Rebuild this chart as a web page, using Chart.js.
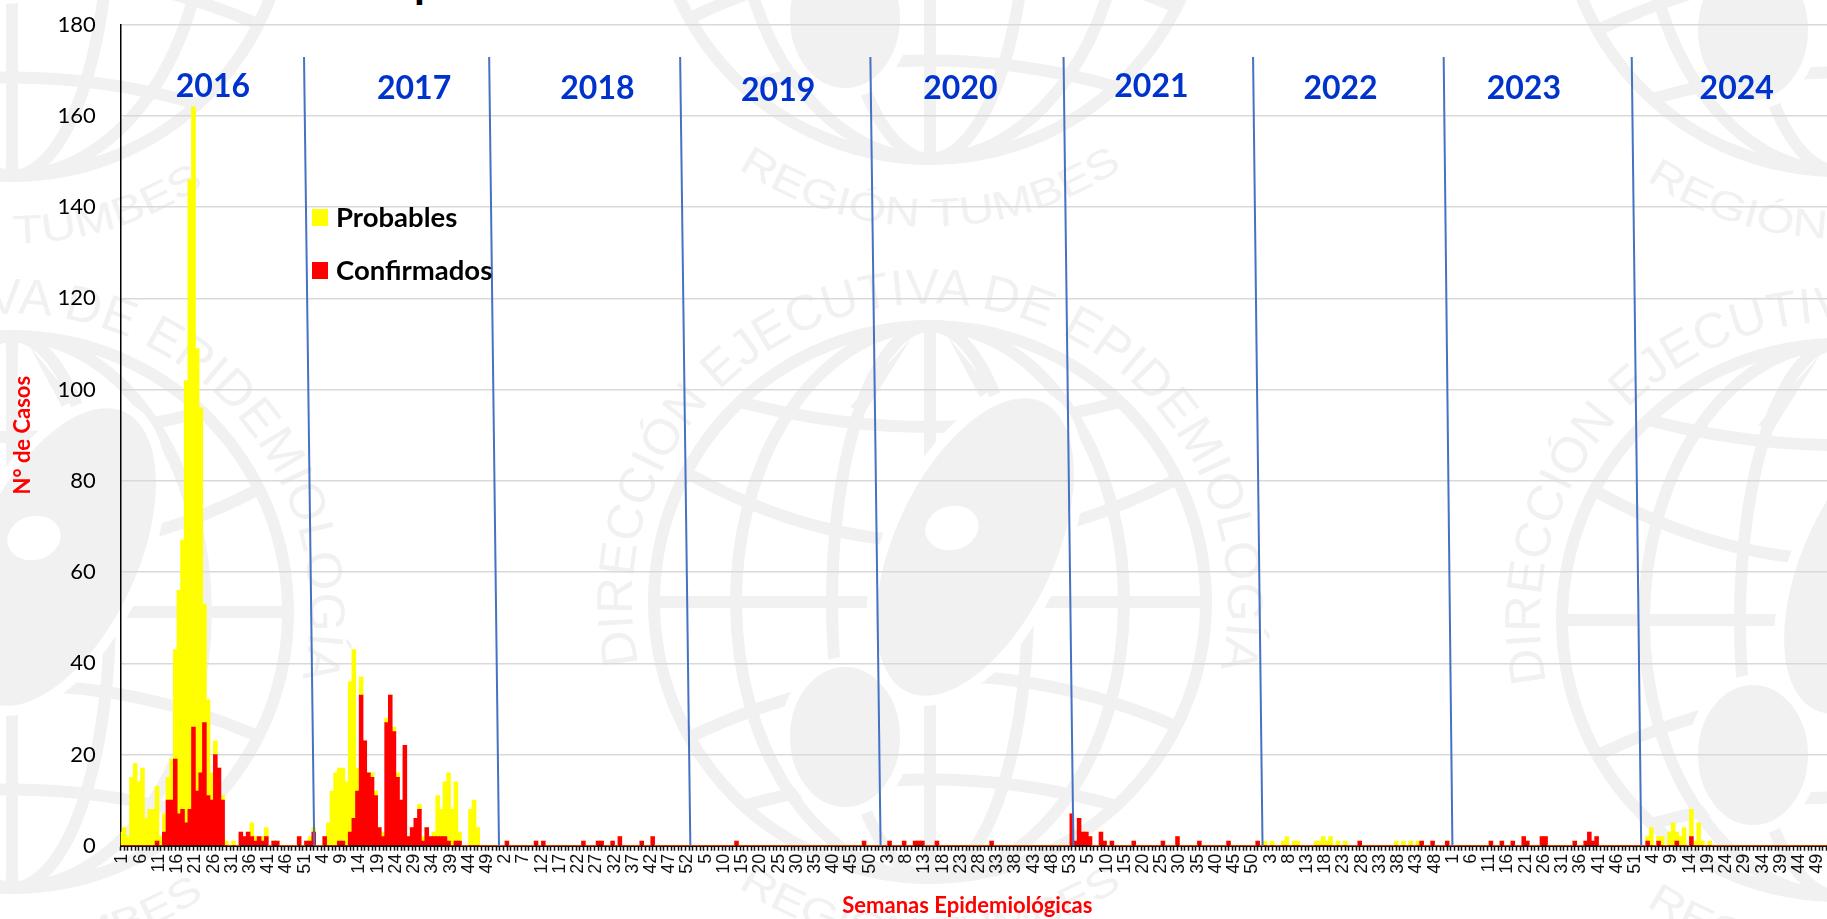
<!DOCTYPE html>
<html lang="es">

<head>
    <meta charset="UTF-8">
    <title>Casos por semanas epidemiológicas</title>
    <style>
        html, body { margin: 0; padding: 0; background: #fff; overflow: hidden; width: 1827px; height: 919px; }
        #marca { position: absolute; left: 0; top: 0; }
        #chart { position: absolute; left: 0; top: 0; }
        #legend { position: absolute; left: 312px; top: 201px; font: bold 27.5px Lato, sans-serif; color: #000; }
        .legend-row { position: absolute; left: 0; white-space: nowrap; line-height: 32px; height: 32px; }
        .legend-row i { position: absolute; left: 0; top: 8px; width: 16px; height: 17px; }
        .legend-row span { position: absolute; left: 24px; top: 0; }
    </style>
</head>

<body>
    <svg id="marca" width="1827" height="919" viewBox="0 0 1827 919">
        <defs>
            <path id="arc-top" d="M -291.5 62 A 298 298 0 1 1 289 72"></path>
            <path id="arc-bottom" d="M -192 285 A 344 344 0 0 0 192 285"></path>
            <g id="emblem" fill="none" stroke="#f1f1f2" stroke-width="12">
                <circle r="276"></circle>
                <ellipse rx="194" ry="276"></ellipse>
                <ellipse rx="98" ry="276"></ellipse>
                <path d="M 0 -270 V 270"></path>
                <path d="M -272 0 H 272"></path>
                <path d="M -190 -200 Q 0 -150 190 -200"></path>
                <path d="M -241 -128 Q 0 5 245 -122"></path>
                <path d="M -240 135 Q 0 20 241 122"></path>
                <path d="M -190 205 Q 0 150 190 205"></path>
                <path d="M 18 -265 L 50 -205 L 62 -212 Z" fill="#f1f1f2" stroke="none"></path>
                <path d="M -18 -265 L -80 -195 L -65 -190 Z" fill="#f1f1f2" stroke="none"></path>
                <ellipse cx="45" cy="-55" rx="85" ry="165" transform="rotate(25 45 -55)" fill="#f1f1f2" stroke="#fff" stroke-width="10"></ellipse>
                <ellipse cx="22" cy="-74" rx="27" ry="22" transform="rotate(-15 22 -74)" fill="#fff" stroke="none"></ellipse>
                <ellipse cx="-85" cy="135" rx="60" ry="75" fill="#f1f1f2" stroke="#fff" stroke-width="10"></ellipse>
                <text font-family="Liberation Sans" font-size="50" fill="#f1f1f2" stroke="none">
                    <textPath href="#arc-top" textLength="1066" lengthAdjust="spacingAndGlyphs">DIRECCIÓN EJECUTIVA DE EPIDEMIOLOGÍA</textPath>
                </text>
                <text font-family="Liberation Sans" font-size="40" fill="#f1f1f2" stroke="none">
                    <textPath href="#arc-bottom" textLength="408" lengthAdjust="spacingAndGlyphs">REGIÓN TUMBES</textPath>
                </text>
            </g>
        </defs>
        <use href="#emblem" x="930" y="602"></use>
        <use href="#emblem" x="1838" y="620"></use>
        <use href="#emblem" x="12" y="612"></use>
        <use href="#emblem" x="930" y="-117"></use>
        <use href="#emblem" x="1838" y="-105"></use>
        <use href="#emblem" x="12" y="-100"></use>
        <!-- title is cut off by the image edge, only this bit shows -->
        <text x="414" y="-2" font-family="Lato" font-weight="bold" font-size="44" fill="#000">p</text>
    </svg>
    <canvas id="chart" width="1830" height="919"></canvas>
    <div id="legend"></div>
</body>

<script src="https://cdn.jsdelivr.net/npm/chart.js@4/dist/chart.umd.min.js"></script>

<script type="text/javascript" charset="utf-8">
    var weeksPerYear = [52, 52, 52, 52, 53, 52, 52, 52, 52];

    var yTicks = [0, 20, 40, 60, 80, 100, 120, 140, 160, 180];

    // Weekly cases, one pair of arrays per year
    var confirmados2016 = [0, 0, 0, 0, 0, 0, 0, 0, 0, 0, 1, 0, 3,
        10, 10, 19, 7, 8, 5, 8, 26, 12, 16, 27, 11, 10,
        20, 17, 10, 0, 0, 0, 0, 3, 2, 3, 2, 1, 2,
        1, 2, 0, 1, 1, 0, 0, 0, 0, 0, 2, 0, 1];
    var probables2016 = [3, 4, 2, 15, 18, 14, 17, 6, 8, 8, 12, 2, 4,
        5, 9, 24, 49, 59, 97, 138, 136, 97, 80, 26, 21, 6,
        3, 0, 1, 1, 0, 1, 0, 0, 0, 0, 3, 1, 0,
        1, 2, 0, 0, 0, 0, 0, 0, 0, 0, 0, 0, 0];
    var confirmados2017 = [1, 3, 0, 0, 2, 0, 0, 0, 1, 1, 0, 3, 6,
        12, 33, 23, 16, 15, 11, 4, 2, 27, 33, 25, 15, 10,
        22, 2, 4, 6, 8, 1, 4, 2, 2, 2, 2, 2, 1,
        0, 1, 1, 0, 0, 0, 0, 0, 0, 0, 0, 0, 0];
    var probables2017 = [1, 1, 0, 0, 0, 5, 12, 16, 16, 16, 14, 33, 37,
        5, 4, 0, 0, 1, 1, 0, 1, 1, 0, 1, 1, 0,
        0, 0, 0, 0, 1, 1, 0, 0, 1, 9, 6, 12, 15,
        8, 13, 2, 0, 0, 8, 10, 4, 0, 0, 0, 0, 0];
    var confirmados2018 = [0, 0, 1, 0, 0, 0, 0, 0, 0, 0, 1, 0, 1,
        0, 0, 0, 0, 0, 0, 0, 0, 0, 0, 1, 0, 0,
        0, 1, 1, 0, 0, 1, 0, 2, 0, 0, 0, 0, 0,
        1, 0, 0, 2, 0, 0, 0, 0, 0, 0, 0, 0, 0];
    var probables2018 = [0, 0, 0, 0, 0, 0, 0, 0, 0, 0, 0, 0, 0,
        0, 0, 0, 0, 0, 0, 0, 0, 0, 0, 0, 0, 0,
        0, 0, 0, 0, 0, 0, 0, 0, 0, 0, 0, 0, 0,
        0, 0, 0, 0, 0, 0, 0, 0, 0, 0, 0, 0, 0];
    var confirmados2019 = [0, 0, 0, 0, 0, 0, 0, 0, 0, 0, 0, 0, 0,
        1, 0, 0, 0, 0, 0, 0, 0, 0, 0, 0, 0, 0,
        0, 0, 0, 0, 0, 0, 0, 0, 0, 0, 0, 0, 0,
        0, 0, 0, 0, 0, 0, 0, 0, 0, 1, 0, 0, 0];
    var probables2019 = [0, 0, 0, 0, 0, 0, 0, 0, 0, 0, 0, 0, 0,
        0, 0, 0, 0, 0, 0, 0, 0, 0, 0, 0, 0, 0,
        0, 0, 0, 0, 0, 0, 0, 0, 0, 0, 0, 0, 0,
        0, 0, 0, 0, 0, 0, 0, 0, 0, 0, 0, 0, 0];
    var confirmados2020 = [0, 0, 0, 1, 0, 0, 0, 1, 0, 0, 1, 1, 1,
        0, 0, 0, 1, 0, 0, 0, 0, 0, 0, 0, 0, 0,
        0, 0, 0, 0, 0, 1, 0, 0, 0, 0, 0, 0, 0,
        0, 0, 0, 0, 0, 0, 0, 0, 0, 0, 0, 0, 0, 0];
    var probables2020 = [0, 0, 0, 0, 0, 0, 0, 0, 0, 0, 0, 0, 0,
        0, 0, 0, 0, 0, 0, 0, 0, 0, 0, 0, 0, 0,
        0, 0, 0, 0, 0, 0, 0, 0, 0, 0, 0, 0, 0,
        0, 0, 0, 0, 0, 0, 0, 0, 0, 0, 0, 0, 0, 0];
    var confirmados2021 = [7, 1, 6, 3, 3, 2, 0, 0, 3, 1, 0, 1, 0,
        0, 0, 0, 0, 1, 0, 0, 0, 0, 0, 0, 0, 1,
        0, 0, 0, 2, 0, 0, 0, 0, 0, 1, 0, 0, 0,
        0, 0, 0, 0, 1, 0, 0, 0, 0, 0, 0, 0, 1];
    var probables2021 = [0, 0, 0, 0, 0, 0, 0, 0, 0, 0, 0, 0, 0,
        0, 0, 0, 0, 0, 0, 0, 0, 0, 0, 0, 0, 0,
        0, 0, 0, 0, 0, 0, 0, 0, 0, 0, 0, 0, 0,
        0, 0, 0, 0, 0, 0, 0, 0, 0, 0, 0, 0, 0];
    var confirmados2022 = [0, 0, 0, 0, 0, 0, 0, 0, 0, 0, 0, 0, 0,
        0, 0, 0, 0, 0, 0, 0, 0, 0, 0, 0, 0, 0,
        0, 1, 0, 0, 0, 0, 0, 0, 0, 0, 0, 0, 0,
        0, 0, 0, 0, 0, 1, 0, 0, 1, 0, 0, 0, 1];
    var probables2022 = [0, 1, 0, 1, 0, 0, 1, 2, 0, 1, 1, 0, 0,
        0, 0, 1, 1, 2, 1, 2, 0, 1, 0, 1, 0, 0,
        0, 0, 0, 0, 0, 0, 0, 0, 0, 0, 0, 1, 0,
        1, 0, 1, 0, 1, 0, 0, 0, 0, 0, 0, 0, 0];
    var confirmados2023 = [0, 0, 0, 0, 0, 0, 0, 0, 0, 0, 0, 1, 0,
        0, 1, 0, 0, 1, 0, 0, 2, 1, 0, 0, 0, 2,
        2, 0, 0, 0, 0, 0, 0, 0, 1, 0, 0, 1, 3,
        1, 2, 0, 0, 0, 0, 0, 0, 0, 0, 0, 0, 0];
    var probables2023 = [0, 0, 0, 0, 0, 0, 0, 0, 0, 0, 0, 0, 0,
        0, 0, 0, 0, 0, 0, 0, 0, 0, 0, 0, 0, 0,
        0, 0, 0, 0, 0, 0, 0, 0, 0, 0, 0, 0, 0,
        0, 0, 0, 0, 0, 0, 0, 0, 0, 0, 0, 0, 0];
    var confirmados2024 = [0, 0, 1, 0, 0, 1, 0, 0, 0, 0, 1, 0, 0,
        0, 2, 0, 0, 0, 0, 0, 0, 0, 0, 0, 0, 0,
        0, 0, 0, 0, 0, 0, 0, 0, 0, 0, 0, 0, 0,
        0, 0, 0, 0, 0, 0, 0, 0, 0, 0, 0, 0, 0];
    var probables2024 = [0, 0, 1, 4, 0, 1, 2, 0, 3, 5, 2, 2, 4,
        0, 6, 1, 5, 1, 0, 1, 0, 0, 0, 0, 0, 0,
        0, 0, 0, 0, 0, 0, 0, 0, 0, 0, 0, 0, 0,
        0, 0, 0, 0, 0, 0, 0, 0, 0, 0, 0, 0, 0];

    // Year labels and slanted separators, in week units along the axis and case units up it
    var yearNames = ['2016', '2017', '2018', '2019', '2020', '2021', '2022', '2023', '2024'];
    var yearNameWeek = [25.3, 80.5, 130.8, 180.4, 230.4, 282.8, 334.7, 385, 443.4];
    var yearNameLevel = [166.5, 165.9, 165.9, 165.6, 166, 166.3, 165.9, 165.9, 165.9];
    var separatorTopWeek = [50.3, 101.1, 153.5, 205.7, 258.7, 310.7, 363, 414.6];
    var separatorBottomWeek = [53.1, 103.8, 156.3, 208.5, 261.4, 313.3, 365.4, 417.2];
    var separatorTopLevel = 172.9;

    var weekLabels = [];
    weeksPerYear.forEach(function (n) {
        for (var w = 1; w <= n; w++) weekLabels.push(String(w));
    });
    var confirmados = [].concat(confirmados2016, confirmados2017, confirmados2018, confirmados2019,
        confirmados2020, confirmados2021, confirmados2022, confirmados2023, confirmados2024);
    var probables = [].concat(probables2016, probables2017, probables2018, probables2019,
        probables2020, probables2021, probables2022, probables2023, probables2024);

    var separatorSets = separatorTopWeek.map(function (top, i) {
        return {
            type: 'line',
            label: 'sep' + i,
            data: [{ x: top, y: separatorTopLevel }, { x: separatorBottomWeek[i], y: 0 }],
            xAxisID: 'xWeeks',
            yAxisID: 'yLevel',
            borderColor: '#4472c4',
            borderWidth: 2,
            pointRadius: 0,
            order: 0
        };
    });

    // Draws the year names on top of the plot
    var yearNamesPlugin = {
        id: 'yearNames',
        afterDatasetsDraw: function (chart) {
            var ctx = chart.ctx;
            ctx.save();
            ctx.font = 'bold 32px Lato, sans-serif';
            ctx.fillStyle = '#0033cc';
            ctx.textAlign = 'center';
            ctx.textBaseline = 'middle';
            yearNames.forEach(function (name, i) {
                ctx.fillText(name, chart.scales.xWeeks.getPixelForValue(yearNameWeek[i]),
                    chart.scales.yLevel.getPixelForValue(yearNameLevel[i]));
            });
            ctx.restore();
        }
    };

    var chart = new Chart(document.getElementById('chart').getContext('2d'), {
        type: 'bar',
        data: {
            labels: weekLabels,
            datasets: [{
                label: 'Confirmados',
                data: confirmados,
                backgroundColor: '#ff0000',
                barThickness: 3.9,
                order: 1
            }, {
                label: 'Probables',
                data: probables,
                backgroundColor: '#ffff00',
                barThickness: 3.9,
                order: 1
            }].concat(separatorSets)
        },
        options: {
            responsive: false,
            animation: false,
            layout: { padding: { top: 24.7, left: 0, right: 0, bottom: 0 } },
            plugins: { legend: { display: false }, tooltip: { enabled: false } },
            scales: {
                x: {
                    stacked: true,
                    afterFit: function (scale) {
                        scale.height = 73.3;
                        scale.paddingLeft = 0;
                        scale.paddingRight = 0;
                    },
                    border: { color: '#111', width: 2 },
                    grid: { drawOnChartArea: false, tickColor: '#111', tickLength: 5, tickWidth: 1.5 },
                    ticks: {
                        autoSkip: false,
                        minRotation: 90,
                        maxRotation: 90,
                        padding: 3,
                        color: '#111',
                        font: { family: 'Liberation Sans', size: 18 },
                        callback: function (value, index) {
                            return index % 5 === 0 ? weekLabels[index] : '';
                        }
                    },
                    title: {
                        display: true,
                        text: 'Semanas Epidemiológicas\u00A0\u00A0\u00A0',
                        color: '#ff0000',
                        font: { family: 'Lato', weight: 'bold', size: 22 },
                        padding: 0
                    }
                },
                y: {
                    stacked: true,
                    min: 0,
                    max: 180,
                    afterFit: function (scale) {
                        scale.width = 120.7;
                        scale.paddingTop = 0;
                        scale.paddingBottom = 0;
                    },
                    afterBuildTicks: function (scale) {
                        scale.ticks = yTicks.map(function (v) { return { value: v }; });
                    },
                    border: { color: '#000', width: 1.5 },
                    grid: { color: '#d9d9d9', lineWidth: 1.5, drawTicks: false },
                    ticks: {
                        padding: 25,
                        color: '#000',
                        font: { family: 'Lato', size: 22 }
                    },
                    title: {
                        display: true,
                        text: 'N° de Casos',
                        color: '#ff0000',
                        font: { family: 'Lato', weight: 'bold', size: 22 },
                        padding: { top: 10, bottom: 0 }
                    }
                },
                xWeeks: { type: 'linear', display: false, offset: false, min: 0, max: 469 },
                yLevel: { type: 'linear', display: false, min: 0, max: 180 }
            }
        },
        plugins: [yearNamesPlugin]
    });

    // Legend sits inside the plot, in the original order
    var legendBox = document.getElementById('legend');
    [{ ds: 1, top: 0 }, { ds: 0, top: 53 }].forEach(function (row) {
        var set = chart.data.datasets[row.ds];
        var el = document.createElement('div');
        el.className = 'legend-row';
        el.style.top = row.top + 'px';
        el.innerHTML = '<i style="background:' + set.backgroundColor + '"></i><span>' + set.label + '</span>';
        legendBox.appendChild(el);
    });
</script>

</html>
